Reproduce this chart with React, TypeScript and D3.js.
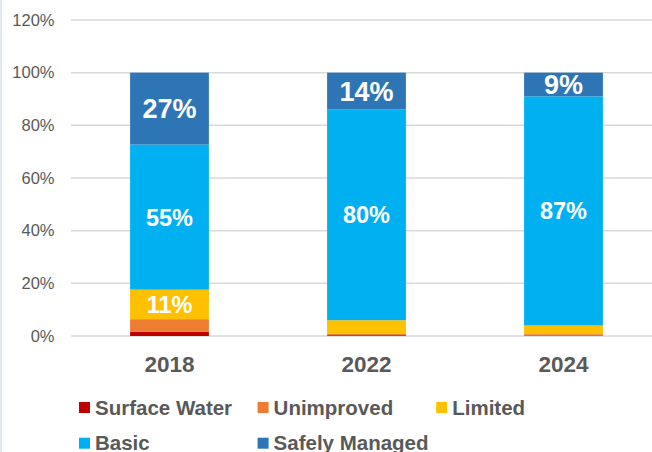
import React from "react";
import * as d3 from "d3";

const years = ["2018", "2022", "2024"];
const seriesNames = ["Surface Water", "Unimproved", "Limited", "Basic", "Safely Managed"];
const seriesColors = ["#C00000", "#ED7D31", "#FFC000", "#00B0F0", "#2E75B6"];
const surfaceWater = [1.6, 0.3, 0.2];
const unimproved = [4.8, 0.5, 0.5];
const limited = [11.2, 5.2, 3.3];
const basic = [55.1, 80.0, 87.0];
const safelyManaged = [27.3, 14.0, 9.0];
const yTicks = [0, 20, 40, 60, 80, 100, 120];

const W = 652;
const H = 452;
const FONT = "'Liberation Sans', Arial, sans-serif";

export default function App() {
  const values = [surfaceWater, unimproved, limited, basic, safelyManaged];
  const rows = years.map((y, i) => {
    const r: any = { year: y };
    seriesNames.forEach((s, k) => (r[s] = values[k][i]));
    return r;
  });
  const stack = d3.stack().keys(seriesNames)(rows);

  const x = d3.scaleBand().domain(years).range([71, 662]).paddingInner(0.6).paddingOuter(0.3);
  const y = d3.scaleLinear().domain([0, 120]).range([336, 20]);

  const legendItems = seriesNames.map((s, i) => ({
    name: s,
    color: seriesColors[i],
    col: i < 3 ? i : i - 3,
    row: i < 3 ? 0 : 1,
  }));

  return (
    <svg width={W} height={H} style={{ position: "absolute", left: 0, top: 0, background: "#fff" }}>
      <rect x={0} y={0} width={W} height={H} fill="#fff" />
      <line x1={1} x2={1} y1={0} y2={H} stroke="#e3e8ee" strokeWidth={2} />
      {yTicks.map((t) => (
        <g key={t}>
          <line x1={71} x2={W} y1={y(t)} y2={y(t)} stroke="#d9d9d9" strokeWidth={1.5} />
          <text
            x={54.5}
            y={y(t)}
            dy="0.35em"
            textAnchor="end"
            fontFamily={FONT}
            fontSize={16.5}
            fill="#595959"
          >
            {t}%
          </text>
        </g>
      ))}
      {stack.map((layer, k) => (
        <g key={seriesNames[k]} fill={seriesColors[k]}>
          {layer.map((d, i) => (
            <rect
              key={years[i]}
              x={x(years[i])}
              width={x.bandwidth()}
              y={y(d[1])}
              height={y(d[0]) - y(d[1])}
            />
          ))}
        </g>
      ))}
      {stack.map((layer, k) =>
        layer.map((d, i) => {
          const v = d[1] - d[0];
          if (v < 8) return null;
          const big = k === 4;
          return (
            <text
              key={`${k}-${i}`}
              x={(x(years[i]) as number) + x.bandwidth() / 2}
              y={(y(d[0]) + y(d[1])) / 2}
              dy="0.36em"
              textAnchor="middle"
              fontFamily={FONT}
              fontWeight="bold"
              fontSize={big ? 27 : 23.5}
              fill="#fff"
            >
              {Math.round(v)}%
            </text>
          );
        })
      )}
      {years.map((yr) => (
        <text
          key={yr}
          x={(x(yr) as number) + x.bandwidth() / 2}
          y={372}
          textAnchor="middle"
          fontFamily={FONT}
          fontWeight="bold"
          fontSize={22.5}
          fill="#595959"
        >
          {yr}
        </text>
      ))}
      {legendItems.map((it) => {
        const lx = 79 + it.col * 178.6;
        const ly = 402 + it.row * 35.7;
        return (
          <g key={it.name}>
            <rect x={lx} y={ly} width={11} height={11} fill={it.color} />
            <text
              x={lx + 16}
              y={ly + 12.5}
              fontFamily={FONT}
              fontWeight="bold"
              fontSize={20.5}
              fill="#595959"
            >
              {it.name}
            </text>
          </g>
        );
      })}
    </svg>
  );
}
